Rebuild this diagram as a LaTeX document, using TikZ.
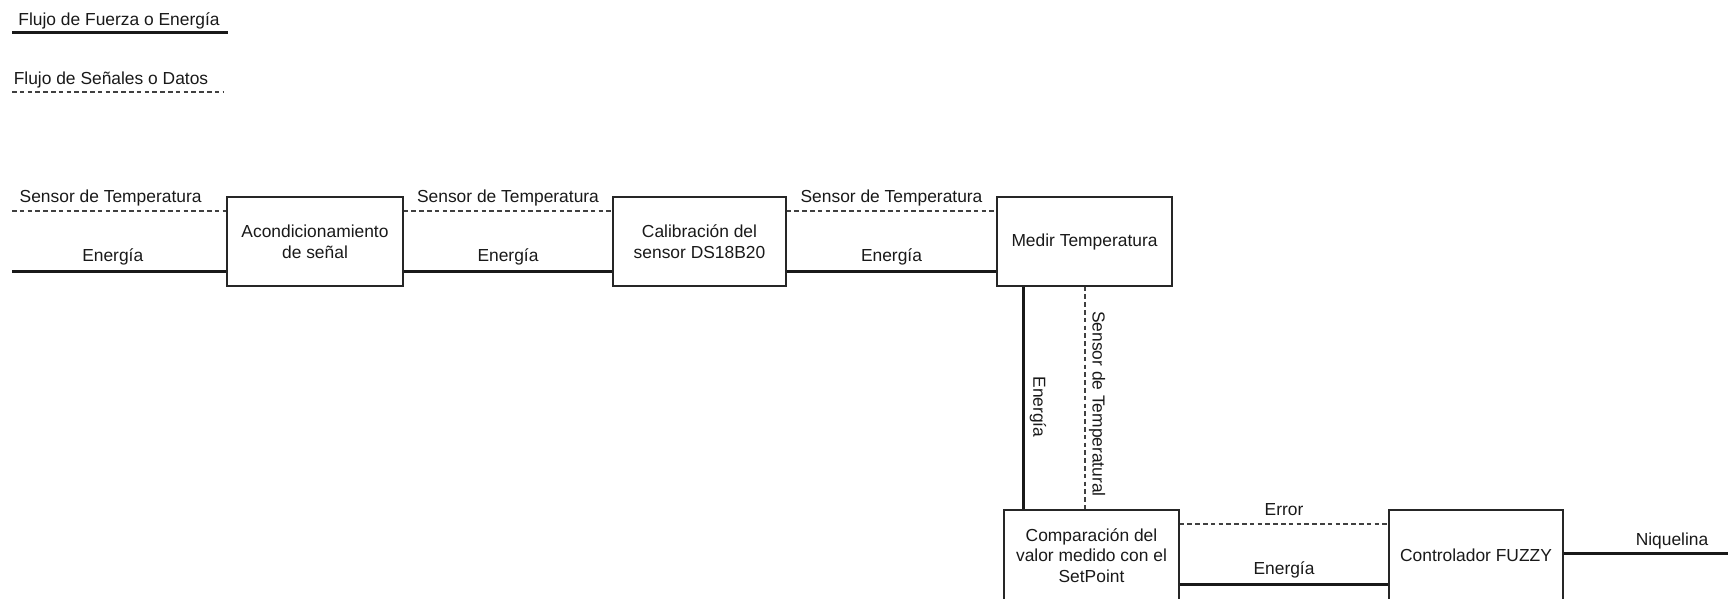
\documentclass[tikz,border=0pt]{standalone}
\usepackage{fontspec}
\setmainfont{Liberation Sans}
\begin{document}
\begin{tikzpicture}[x=1pt,y=-1pt,
  every node/.style={font=\fontsize{17.4}{21}\selectfont, text=black!90},
  blk/.style={draw=black!85, line width=1.3pt, rectangle, inner sep=0pt, align=center, minimum height=89pt},
  power/.style={line width=3pt, draw=black!90},
  signal/.style={line width=1.3pt, draw=black!75, dash pattern=on 4.5pt off 3.3pt},
  lbl/.style={inner sep=0pt, text height=12.6pt, text depth=3.7pt},
  up/.style={lbl, above=4pt}
]
\useasboundingbox (0,0) rectangle (1728,599);

% legend
\coordinate (l1a) at (12,33);
\coordinate (l1b) at (228,33);
\draw[power] (l1a) -- (l1b);
\node[up] (leg1) at (119,33) {Flujo de Fuerza o Energía};
\coordinate (l2a) at (12,92);
\coordinate (l2b) at (223,92);
\draw[signal] (l2a) -- (l2b);
\node[up] (leg2) at (111,92) {Flujo de Señales o Datos};

% blocks
\node[blk, minimum width=176pt] (b1) at (315,241.5) {Acondicionamiento\\de señal};
\node[blk, minimum width=173pt] (b2) at (699.5,241.5) {Calibración del\\sensor DS18B20};
\node[blk, minimum width=175pt] (b3) at (1084.5,241.5) {Medir Temperatura};
\node[blk, minimum width=175pt, minimum height=91pt, font=\fontsize{17.4}{20.3}\selectfont] (b4) at (1091.5,555.5) {Comparación del\\valor medido con el\\SetPoint};
\node[blk, minimum width=174pt, minimum height=91pt] (b5) at (1476,555.5) {Controlador FUZZY};

% reference levels
\coordinate (dy) at (0,211);
\coordinate (sy) at (0,271);
\coordinate (s0) at (12,211);
\coordinate (e0) at (12,271);

% top row signal lines
\draw[signal] (s0) -- node[up, pos=0.46] (t1) {Sensor de Temperatura} (b1.west |- dy);
\draw[signal] (b1.east |- dy) -- node[up] (t2) {Sensor de Temperatura} (b2.west |- dy);
\draw[signal] (b2.east |- dy) -- node[up] (t3) {Sensor de Temperatura} (b3.west |- dy);

% top row power lines
\draw[power] (e0) -- node[up, pos=0.47] (p1) {Energía} (b1.west |- sy);
\draw[power] (b1.east |- sy) -- node[up] (p2) {Energía} (b2.west |- sy);
\draw[power] (b2.east |- sy) -- node[up] (p3) {Energía} (b3.west |- sy);

% verticals
\coordinate (vx) at (1023,0);
\coordinate (dx) at (1085,0);
\draw[power] (b3.south -| vx) -- (b4.north -| vx);
\draw[signal] (b3.south -| dx) -- (b4.north -| dx);
\node[inner sep=0pt, rotate=-90] (vl1) at (1038,407) {Energía};
\node[inner sep=0pt, rotate=-90] (vl2) at (1097,404) {Sensor de Temperatural};

% bottom row
\coordinate (ey) at (0,524);
\coordinate (by) at (0,584);
\draw[signal] (b4.east |- ey) -- node[up] (er) {Error} (b5.west |- ey);
\draw[power] (b4.east |- by) -- node[up] (en) {Energía} (b5.west |- by);
\coordinate (nq) at (1728,553);
\draw[power] (b5.east |- nq) -- (nq);
\node[up] (nql) at (1672,553) {Niquelina};
\end{tikzpicture}
\end{document}
